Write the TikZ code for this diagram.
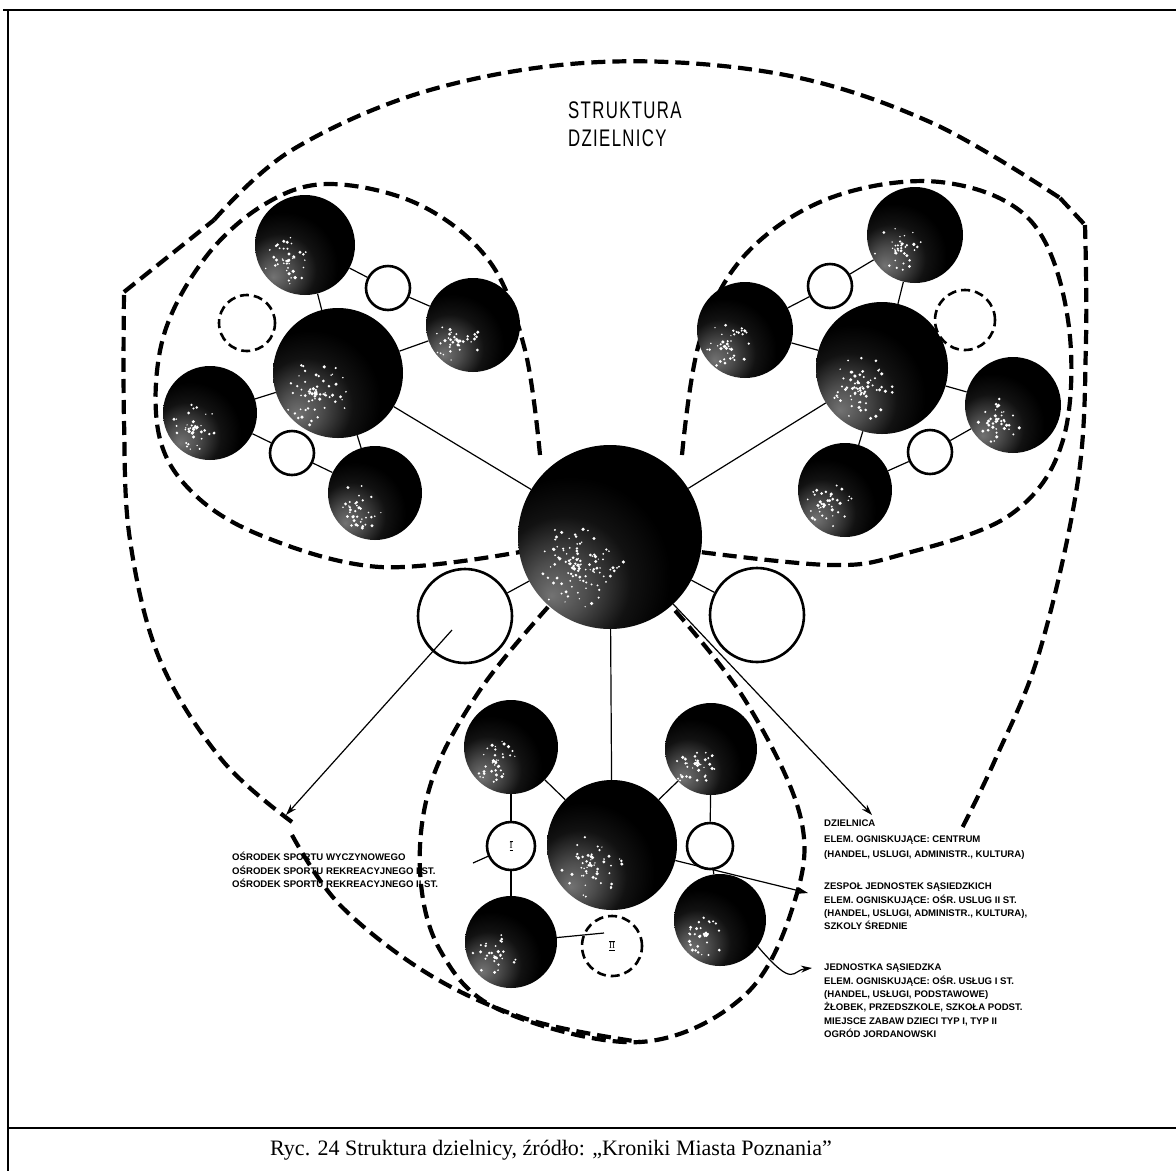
\documentclass[tikz,border=0pt]{standalone}
\usepackage{fontspec}
\setmainfont{Liberation Serif}
\newfontfamily\labfont{Liberation Sans}
\newfontfamily\titfont[LetterSpace=8]{Liberation Sans}
\usetikzlibrary{arrows.meta}
\pgfdeclareradialshading{spot}{\pgfpoint{-16bp}{-16bp}}{color(0bp)=(black!55); color(8bp)=(black!70); color(18bp)=(black!93); color(27bp)=(black); color(80bp)=(black)}
\newcommand\mystip[3]{%
  \begin{scope}
    \clip (#1) circle (#2);
    \foreach \i in {1,...,#3}{
      \pgfmathsetmacro\ang{rnd*360}
      \pgfmathsetmacro\dd{#2*0.5*rnd}
      \pgfmathsetmacro\ss{0.7+1.1*rnd}
      \fill[white] (#1) ++(-0.34*#2,0.32*#2) ++(\ang:\dd) circle (\ss);
    }
  \end{scope}}
\begin{document}
\begin{tikzpicture}[x=1pt,y=-1pt,
  dark/.style={circle, inner sep=0pt, shade, shading=spot, minimum size=#1},
  wc/.style={circle, draw, line width=2.6pt, fill=white, inner sep=0pt, minimum size=#1},
  dwc/.style={circle, draw, line width=2.6pt, dash pattern=on 9pt off 5pt, fill=white, inner sep=0pt, minimum size=#1},
  con/.style={line width=1.2pt},
  bnd/.style={line width=4.2pt, dash pattern=on 14pt off 7pt},
  arr/.style={line width=1.2pt, -{Stealth[length=11pt,width=7pt]}},
  lbl/.style={font=\labfont\bfseries\fontsize{9.6}{13.3}\selectfont, align=left, inner sep=0pt, anchor=north west},
  frame/.style={line width=2.4pt}]
\pgfmathsetseed{11}
\useasboundingbox (0,0) rectangle (1176,1171);
% frame
\coordinate (f1) at (3,10); \coordinate (f2) at (1176,10);
\coordinate (f3) at (8,10); \coordinate (f4) at (8,1171);
\coordinate (f5) at (8,1128); \coordinate (f6) at (1176,1128);
\draw[frame] (f1) -- (f2); \draw[frame] (f3) -- (f4); \draw[frame] (f5) -- (f6);
\node[font=\fontsize{22}{26}\selectfont] (cap) at (551,1150) {Ryc. 24 Struktura dzielnicy, źródło: „Kroniki Miasta Poznania”};
% title
\node[font=\titfont\fontsize{24}{28}\selectfont, xscale=0.7, transform shape, inner sep=0pt, anchor=north west, align=left] (title) at (568,102) {STRUKTURA\\DZIELNICY};

% dashed boundaries
\draw[bnd] plot[smooth, tension=0.6] coordinates {(292,822) (222,760) (160,660) (130,540) (124,420) (124,292)};
\draw[bnd] (124,292) -- (214,220);
\draw[bnd] plot[smooth, tension=0.6] coordinates {(214,220) (292,150) (430,90) (600,62) (780,74) (930,122) (1060,198)};
\draw[bnd] (1060,198) -- (1085,225);
\draw[bnd] plot[smooth, tension=0.6] coordinates {(1085,225) (1086,340) (1078,480) (1040,650) (995,760) (960,832)};
\draw[bnd] plot[smooth, tension=0.6] coordinates {(292,835) (340,905) (430,975) (530,1020) (640,1042)};
% bottom loop
\draw[bnd] plot[smooth, tension=0.6] coordinates {(548,607) (480,690) (432,780) (420,870) (440,950) (500,1010) (640,1042) (745,995) (795,900) (800,815) (745,700) (672,607)};
% top-left loop
\draw[bnd] plot[smooth, tension=0.6] coordinates {(540,455) (525,350) (490,262) (420,205) (330,184) (265,204) (205,258) (163,338) (158,430) (190,490) (260,535) (380,567) (520,552)};
% top-right loop
\draw[bnd] plot[smooth, tension=0.6] coordinates {(682,455) (700,340) (745,255) (830,198) (940,182) (1030,220) (1068,320) (1063,440) (1010,515) (900,555) (830,565) (700,552)};

% central
\node[dark=184] (C) at (610,537) {};
\node[wc=94] (WL) at (465,616) {};
\node[wc=94] (WR) at (757,615) {};
% top-left cluster
\node[dark=130] (A) at (338,373) {};
\node[dark=100] (A1) at (305,245) {};
\node[dark=94] (A2) at (473,325) {};
\node[dark=94] (A3) at (375,493) {};
\node[dark=94] (A4) at (210,413) {};
\node[wc=44] (Aw1) at (388,288) {};
\node[wc=44] (Aw2) at (292,453) {};
\node[dwc=56] (Aw3) at (247,323) {};
% top-right cluster
\node[dark=132] (R) at (882,368) {};
\node[dark=96] (R1) at (915,235) {};
\node[dark=96] (R2) at (1013,405) {};
\node[dark=94] (R3) at (845,490) {};
\node[dark=96] (R4) at (745,330) {};
\node[wc=44] (Rw1) at (830,286) {};
\node[wc=44] (Rw2) at (930,452) {};
\node[dwc=60] (Rw3) at (965,320) {};
% bottom cluster
\node[dark=130] (B) at (612,845) {};
\node[dark=94] (B1) at (511,747) {};
\node[dark=92] (B2) at (711,749) {};
\node[dark=92] (B3) at (720,920) {};
\node[dark=92] (B4) at (511,942) {};
\node[wc=48, font=\bfseries\small] (Bw1) at (511,846) {$\overline{\underline{\mathrm{I}}}$};
\node[wc=46] (Bw2) at (710,846) {};
\node[dwc=60, font=\bfseries\small] (Bw3) at (612,946) {$\overline{\underline{\mathrm{II}}}$};

% stipple highlights
\mystip{C}{92}{110}
\mystip{A}{65}{70} \mystip{A1}{50}{45} \mystip{A2}{47}{40} \mystip{A3}{47}{40} \mystip{A4}{47}{40}
\mystip{R}{66}{70} \mystip{R1}{48}{40} \mystip{R2}{48}{40} \mystip{R3}{47}{40} \mystip{R4}{48}{40}
\mystip{B}{65}{55} \mystip{B1}{47}{40} \mystip{B2}{46}{40} \mystip{B3}{46}{35} \mystip{B4}{46}{30}

% connectors
\foreach \a/\b in {C/A, C/R, C/B, C/WL, C/WR,
  A/A1, A/A2, A/A3, A/A4, A1/Aw1, Aw1/A2, A4/Aw2, Aw2/A3,
  R/R1, R/R2, R/R3, R/R4, R4/Rw1, Rw1/R1, R2/Rw2, Rw2/R3,
  B/B1, B/B2, B1/Bw1, Bw1/B4, B2/Bw2, Bw2/B3}
  \draw[con] (\a) -- (\b);
\coordinate (iiin) at (604,933);
\draw[con] (B4) -- (iiin);
\coordinate (t1) at (473,863);
\draw[con] (Bw1) -- (t1);

% arrows
\coordinate (a1s) at (452,630);
\coordinate (a1e) at (286,815);
\draw[arr] (a1s) -- (a1e);
\coordinate (dz) at (872,815);
\draw[arr] (C) -- (dz);
\coordinate (zs) at (808,893);
\draw[arr] (B) -- (zs);
\coordinate (js) at (812,968);
\draw[arr] (B3.-35) .. controls (795,990) and (792,970) .. (js);

% labels
\node[lbl] (osr) at (232,852) {OŚRODEK SPORTU WYCZYNOWEGO\\OŚRODEK SPORTU REKREACYJNEGO I ST.\\OŚRODEK SPORTU REKREACYJNEGO II ST.};
\node[lbl, font=\labfont\bfseries\fontsize{9.6}{15.5}\selectfont] (dzl) at (824,820) {DZIELNICA\\ELEM. OGNISKUJĄCE: CENTRUM\\(HANDEL, USLUGI, ADMINISTR., KULTURA)};
\node[lbl] (zsp) at (824,883) {ZESPOŁ JEDNOSTEK SĄSIEDZKICH\\ELEM. OGNISKUJĄCE: OŚR. USLUG II ST.\\(HANDEL, USLUGI, ADMINISTR., KULTURA),\\SZKOLY ŚREDNIE};
\node[lbl] (jed) at (824,964) {JEDNOSTKA SĄSIEDZKA\\ELEM. OGNISKUJĄCE: OŚR. USŁUG I ST.\\(HANDEL, USŁUGI, PODSTAWOWE)\\ŻŁOBEK, PRZEDSZKOLE, SZKOŁA PODST.\\MIEJSCE ZABAW DZIECI TYP I, TYP II\\OGRÓD JORDANOWSKI};
\end{tikzpicture}
\end{document}
